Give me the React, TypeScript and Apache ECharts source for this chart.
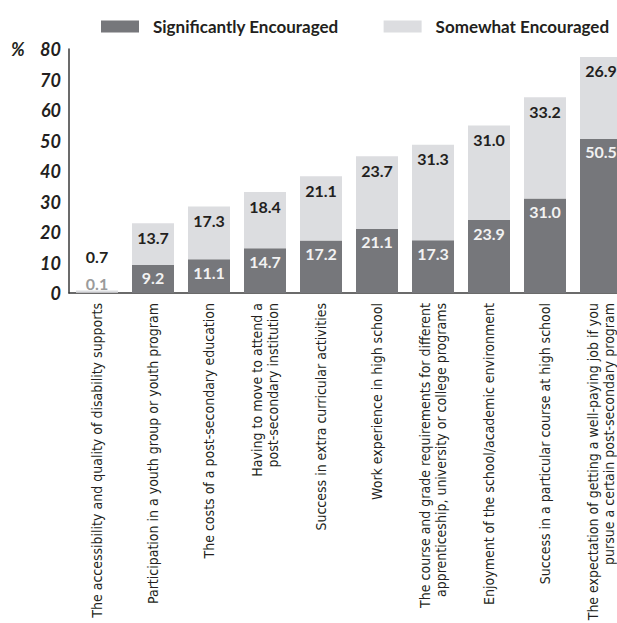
import React, { useEffect, useRef } from "react";
import * as echarts from "echarts";

// Factors that encouraged students, % of respondents
const categories: string[] = [
  "The accessibility and quality of disability supports",
  "Participation in a youth group or youth program",
  "The costs of a post-secondary education",
  "Having to move to attend a\npost-secondary institution",
  "Success in extra curricular activities",
  "Work experience in high school",
  "The course and grade requirements for different\napprenticeship, university or college programs",
  "Enjoyment of the school/academic environment",
  "Success in a particular course at high school",
  "The expectation of getting a well-paying job if you\npursue a certain post-secondary program",
];

const significantly: number[] = [0.1, 9.2, 11.1, 14.7, 17.2, 21.1, 17.3, 23.9, 31.0, 50.5];
const somewhat: number[] = [0.7, 13.7, 17.3, 18.4, 21.1, 23.7, 31.3, 31.0, 33.2, 26.9];

const seriesNames: string[] = ["Significantly Encouraged", "Somewhat Encouraged"];
const yTicks = { min: 0, max: 80, interval: 10 };

const DARK = "#76777b";
const LIGHT = "#dcdde0";
const INK = "#231f20";

const W = 617;
const H = 623;

const labelFont = "Lato, 'Open Sans', sans-serif";
const catFont = "'DejaVu Sans Condensed', Roboto, 'Noto Sans', sans-serif";

const fmt = (v: number) => v.toFixed(1);

export default function App() {
  const ref = useRef<HTMLDivElement>(null);

  useEffect(() => {
    if (!ref.current) return;
    const chart = echarts.init(ref.current, null, { renderer: "svg", width: W, height: H });

    // very small first bar: its labels sit above the bar instead of inside
    const darkData = significantly.map((v, i) =>
      i === 0
        ? { value: v, label: { position: "top", distance: 1, color: "#9b9b9b" } }
        : v
    );
    const lightData = somewhat.map((v, i) =>
      i === 0 ? { value: v, label: { position: "top", distance: 26 } } : v
    );

    chart.setOption({
      animation: false,
      legend: {
        left: 101,
        top: 18,
        padding: 0,
        itemWidth: 38,
        itemHeight: 12,
        itemGap: 45,
        icon: "rect",
        selectedMode: false,
        data: seriesNames,
        textStyle: {
          fontFamily: labelFont,
          fontWeight: "bold",
          fontSize: 17,
          color: INK,
          padding: [0, 0, 0, 9],
        },
      },
      graphic: [
        {
          type: "text",
          left: 11,
          top: 40,
          style: {
            text: "%",
            fontFamily: labelFont,
            fontWeight: "bold",
            fontStyle: "italic",
            fontSize: 18,
            fill: INK,
          },
        },
      ],
      grid: {
        left: 69,
        right: -12,
        top: 49,
        bottom: 330,
        containLabel: false,
        outerBoundsMode: "none",
      },
      xAxis: {
        type: "category",
        data: categories,
        axisTick: { show: false },
        axisLine: { show: true, lineStyle: { color: "#3a3a3a", width: 1.5 } },
        axisLabel: {
          rotate: 90,
          interval: 0,
          margin: 10,
          fontFamily: catFont,
          fontSize: 14,
          lineHeight: 16,
          color: INK,
        },
      },
      yAxis: {
        type: "value",
        min: yTicks.min,
        max: yTicks.max,
        interval: yTicks.interval,
        splitLine: { show: false },
        axisTick: { show: false },
        axisLine: { show: true, lineStyle: { color: "#3a3a3a", width: 1.5 } },
        axisLabel: {
          margin: 8,
          fontFamily: labelFont,
          fontWeight: "bold",
          fontStyle: "italic",
          fontSize: 18,
          color: INK,
        },
      },
      series: [
        {
          name: seriesNames[0],
          type: "bar",
          stack: "total",
          barWidth: 42,
          itemStyle: { color: DARK },
          data: darkData,
          label: {
            show: true,
            position: "insideTop",
            distance: 5,
            formatter: (p: any) => fmt(p.value),
            fontFamily: labelFont,
            fontWeight: "bold",
            fontSize: 16,
            color: "#f2f2f2",
          },
        },
        {
          name: seriesNames[1],
          type: "bar",
          stack: "total",
          barWidth: 42,
          itemStyle: { color: LIGHT },
          data: lightData,
          label: {
            show: true,
            position: "insideTop",
            distance: 6,
            formatter: (p: any) => fmt(p.value),
            fontFamily: labelFont,
            fontWeight: "bold",
            fontSize: 16,
            color: INK,
          },
        },
      ],
    });

    return () => chart.dispose();
  }, []);

  return (
    <div
      ref={ref}
      style={{ position: "absolute", left: 0, top: 0, width: W, height: H, background: "#fff" }}
    />
  );
}
